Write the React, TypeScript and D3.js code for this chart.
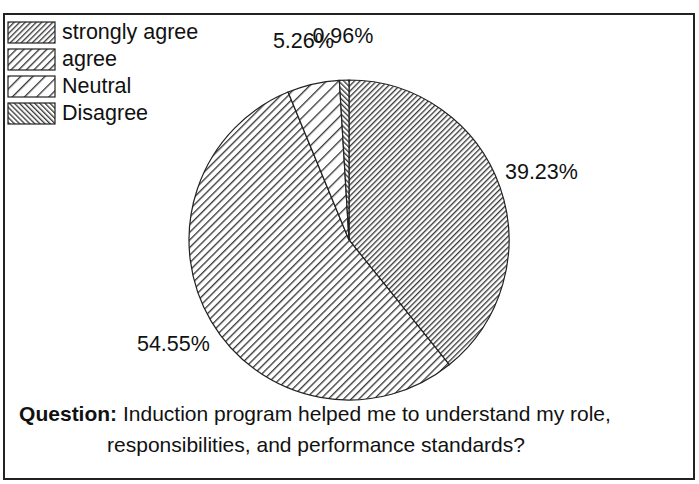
import React from "react";
import * as d3 from "d3";

const categories = ["strongly agree", "agree", "Neutral", "Disagree"];
const values = [39.23, 54.55, 5.26, 0.96];
const valueLabels = ["39.23%", "54.55%", "5.26%", "0.96%"];
const questionBold = "Question:";
const questionLine1 = " Induction program helped me to understand my role,";
const questionLine2 = "responsibilities, and performance standards?";

// hatch styles: [spacing, rotation]
const hatchSpacing = [3.9, 5.4, 8.6, 3.6];
const hatchAngle = [45, 45, 45, -45];

const W = 699;
const H = 484;
const cx = 349;
const cy = 240;
const R = 160;

export default function App() {
  const pie = d3
    .pie<number>()
    .sort(null)
    .value((d) => d)
    .startAngle(0)
    .endAngle(2 * Math.PI);
  const arcs = pie(values);
  const arc = d3.arc<d3.PieArcDatum<number>>().innerRadius(0).outerRadius(R);
  const labelR = R + 44;

  return (
    <svg
      width={W}
      height={H}
      style={{ position: "absolute", left: 0, top: 0, background: "#fff" }}
      fontFamily="'Liberation Sans', Arial, sans-serif"
    >
      <defs>
        {categories.map((c, i) => (
          <pattern
            key={c}
            id={`hatch${i}`}
            patternUnits="userSpaceOnUse"
            width={hatchSpacing[i]}
            height={hatchSpacing[i]}
            patternTransform={`rotate(${hatchAngle[i]})`}
          >
            <rect width={hatchSpacing[i]} height={hatchSpacing[i]} fill="#fff" />
            <line x1={0.7} y1={0} x2={0.7} y2={hatchSpacing[i]} stroke="#222" strokeWidth={1.2} />
          </pattern>
        ))}
      </defs>
      <rect x={0} y={0} width={W} height={H} fill="#fff" />
      <rect x={4} y={14} width={690} height={465} fill="none" stroke="#222" strokeWidth={2} />

      <g transform={`translate(${cx},${cy})`}>
        {arcs.map((a, i) => (
          <path key={i} d={arc(a) || ""} fill={`url(#hatch${i})`} stroke="#222" strokeWidth={1.2} />
        ))}
        {arcs.map((a, i) => {
          const mid = (a.startAngle + a.endAngle) / 2;
          return (
            <text
              key={i}
              x={labelR * Math.sin(mid)}
              y={-labelR * Math.cos(mid)}
              textAnchor="middle"
              dominantBaseline="central"
              fontSize={21.5}
              fill="#111"
            >
              {valueLabels[i]}
            </text>
          );
        })}
      </g>

      <g>
        {categories.map((c, i) => (
          <g key={c} transform={`translate(8,${22 + i * 27})`}>
            <rect width={47} height={21} fill={`url(#hatch${i})`} stroke="#222" strokeWidth={1.2} />
            <text x={54} y={17} fontSize={21.5} fill="#111">
              {c}
            </text>
          </g>
        ))}
      </g>

      <text x={315} y={421} textAnchor="middle" fontSize={21} fill="#111">
        <tspan fontWeight="bold">{questionBold}</tspan>
        <tspan>{questionLine1}</tspan>
      </text>
      <text x={316} y={452} textAnchor="middle" fontSize={21} fill="#111">
        {questionLine2}
      </text>
    </svg>
  );
}
